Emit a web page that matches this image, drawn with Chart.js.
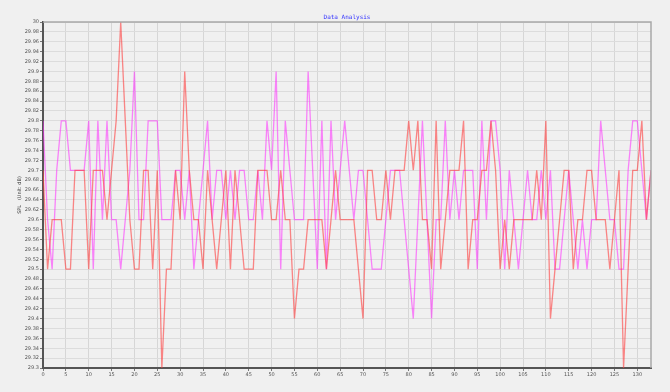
<!DOCTYPE html>
<html lang="en">
<head>
  <meta charset="UTF-8" />
  <title>Data Analysis</title>
  <script src="https://cdn.jsdelivr.net/npm/chart.js"></script>
  <style>
    html, body { margin: 0; padding: 0; background: #f0f0f0; }
    canvas { display: block; }
  </style>
</head>
<body>
  <canvas id="chart" width="670" height="392"></canvas>

  <script>
    // values, index 0..133
    const seriesRed = [
      29.7, 29.5, 29.6, 29.6, 29.6, 29.5, 29.5, 29.7, 29.7, 29.7,
      29.5, 29.7, 29.7, 29.7, 29.6, 29.7, 29.8, 30.0, 29.8, 29.6,
      29.5, 29.5, 29.7, 29.7, 29.5, 29.7, 29.3, 29.5, 29.5, 29.7,
      29.6, 29.9, 29.7, 29.6, 29.6, 29.5, 29.7, 29.6, 29.5, 29.6,
      29.7, 29.5, 29.7, 29.6, 29.5, 29.5, 29.5, 29.7, 29.7, 29.7,
      29.6, 29.6, 29.7, 29.6, 29.6, 29.4, 29.5, 29.5, 29.6, 29.6,
      29.6, 29.6, 29.5, 29.6, 29.7, 29.6, 29.6, 29.6, 29.6, 29.5,
      29.4, 29.7, 29.7, 29.6, 29.6, 29.7, 29.6, 29.7, 29.7, 29.7,
      29.8, 29.7, 29.8, 29.6, 29.6, 29.5, 29.8, 29.5, 29.6, 29.7,
      29.7, 29.7, 29.8, 29.5, 29.6, 29.6, 29.7, 29.7, 29.8, 29.7,
      29.5, 29.6, 29.5, 29.6, 29.6, 29.6, 29.6, 29.6, 29.7, 29.6,
      29.8, 29.4, 29.5, 29.6, 29.7, 29.7, 29.5, 29.6, 29.6, 29.7,
      29.7, 29.6, 29.6, 29.6, 29.5, 29.6, 29.7, 29.3, 29.5, 29.7,
      29.7, 29.8, 29.6, 29.7
    ];
    const seriesMagenta = [
      29.8, 29.6, 29.5, 29.7, 29.8, 29.8, 29.7, 29.7, 29.7, 29.7,
      29.8, 29.5, 29.8, 29.6, 29.8, 29.6, 29.6, 29.5, 29.6, 29.7,
      29.9, 29.6, 29.6, 29.8, 29.8, 29.8, 29.6, 29.6, 29.6, 29.7,
      29.7, 29.6, 29.7, 29.5, 29.6, 29.7, 29.8, 29.6, 29.7, 29.7,
      29.6, 29.7, 29.6, 29.7, 29.7, 29.6, 29.6, 29.7, 29.6, 29.8,
      29.7, 29.9, 29.5, 29.8, 29.7, 29.6, 29.6, 29.6, 29.9, 29.7,
      29.5, 29.8, 29.5, 29.8, 29.6, 29.7, 29.8, 29.7, 29.6, 29.7,
      29.7, 29.6, 29.5, 29.5, 29.5, 29.6, 29.7, 29.7, 29.7, 29.6,
      29.5, 29.4, 29.6, 29.8, 29.6, 29.4, 29.6, 29.6, 29.8, 29.6,
      29.7, 29.6, 29.7, 29.7, 29.7, 29.5, 29.8, 29.6, 29.8, 29.8,
      29.7, 29.5, 29.7, 29.6, 29.5, 29.6, 29.7, 29.6, 29.6, 29.7,
      29.6, 29.7, 29.5, 29.5, 29.6, 29.7, 29.6, 29.5, 29.6, 29.5,
      29.6, 29.6, 29.8, 29.7, 29.6, 29.6, 29.5, 29.5, 29.7, 29.8,
      29.8, 29.7, 29.6, 29.7
    ];
    const chartTitle = 'Data Analysis';
    const yTitle = 'SPL   (Unit: dB)';

    const toPoints = arr => arr.map((v, i) => ({ x: i, y: v }));

    // title and y axis caption drawn at fixed spots, plus the plot frame
    const framePlugin = {
      id: 'frame',
      afterDraw(chart) {
        const { ctx, chartArea: a } = chart;
        ctx.save();
        ctx.strokeStyle = '#a8a8a8';
        ctx.lineWidth = 1.5;
        ctx.beginPath();
        ctx.moveTo(a.left, a.top);
        ctx.lineTo(a.right, a.top);
        ctx.lineTo(a.right, a.bottom);
        ctx.stroke();

        ctx.fillStyle = '#3030ff';
        ctx.font = '6px "DejaVu Sans Mono"';
        ctx.textAlign = 'center';
        ctx.textBaseline = 'middle';
        ctx.fillText(chartTitle, (a.left + a.right) / 2, 17);

        ctx.fillStyle = '#444';
        ctx.font = '5px "DejaVu Sans"';
        ctx.translate(20, (a.top + a.bottom) / 2);
        ctx.rotate(-Math.PI / 2);
        ctx.fillText(yTitle, 0, 0);
        ctx.restore();
      }
    };

    new Chart(document.getElementById('chart'), {
      type: 'line',
      data: {
        datasets: [
          {
            data: toPoints(seriesRed),
            borderColor: 'rgba(255,60,60,0.6)',
            borderWidth: 1.3,
            pointRadius: 0,
            tension: 0
          },
          {
            data: toPoints(seriesMagenta),
            borderColor: 'rgba(255,40,255,0.55)',
            borderWidth: 1.3,
            pointRadius: 0,
            tension: 0
          }
        ]
      },
      options: {
        responsive: false,
        animation: false,
        layout: { padding: { top: 22, right: 19, left: 0, bottom: 0 } },
        plugins: {
          legend: { display: false },
          tooltip: { enabled: false },
          title: { display: false }
        },
        scales: {
          x: {
            type: 'linear',
            min: 0,
            max: 133,
            afterFit(s) { s.height = 24; },
            afterBuildTicks(s) { s.ticks = s.ticks.filter(t => t.value % 5 === 0); },
            ticks: {
              stepSize: 5,
              color: '#555',
              font: { size: 5, family: 'DejaVu Sans' },
              padding: 1,
              maxRotation: 0
            },
            grid: { color: '#d6d6d6', tickLength: 3, tickColor: '#777' },
            border: { color: '#555', width: 2 }
          },
          y: {
            min: 29.3,
            max: 30,
            afterFit(s) { s.width = 43; },
            ticks: {
              stepSize: 0.02,
              autoSkip: false,
              color: '#555',
              font: { size: 5, family: 'DejaVu Sans' },
              padding: 1,
              callback: v => String(parseFloat(v.toFixed(2)))
            },
            grid: { color: '#dcdcdc', tickLength: 3, tickColor: '#777' },
            border: { color: '#555', width: 2 }
          }
        }
      },
      plugins: [framePlugin]
    });
  </script>
</body>
</html>
